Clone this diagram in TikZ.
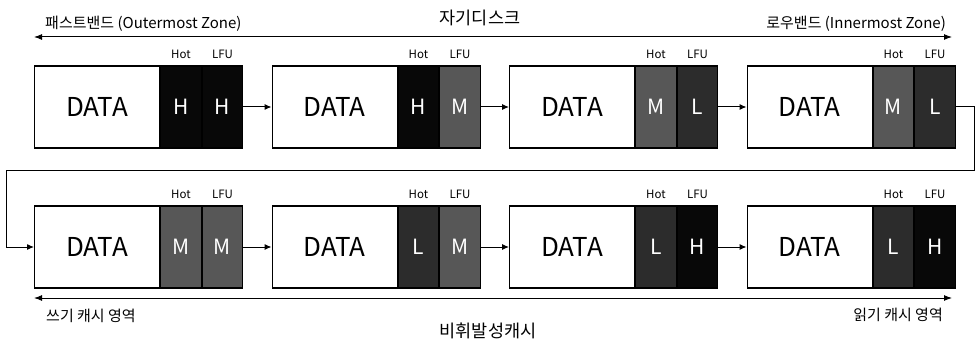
\documentclass[tikz,border=0pt]{standalone}
\usepackage{fontspec}
\setmainfont{Noto Sans CJK KR}
\usetikzlibrary{arrows.meta}
\definecolor{cH}{HTML}{080808}
\definecolor{cM}{HTML}{575757}
\definecolor{cL}{HTML}{2C2C2C}
\begin{document}
\begin{tikzpicture}[x=1pt,y=1pt,
  databox/.style={draw=black, line width=1.1pt, fill=white, minimum width=125pt, minimum height=82pt, inner sep=0pt, anchor=west, font=\fontsize{26}{28}\selectfont},
  cell/.style={draw=black, line width=1.1pt, minimum width=40.5pt, minimum height=82pt, inner sep=0pt, anchor=west, text=white, font=\fontsize{21}{23}\selectfont},
  tag/.style={inner sep=0pt, font=\fontsize{11.5}{13}\selectfont},
  lbl/.style={inner sep=0pt, font=\fontsize{15}{17}\selectfont},
  ttl/.style={inner sep=0pt, font=\fontsize{17.5}{19}\selectfont},
  conn/.style={line width=1pt, -{Latex[length=7pt,width=6pt]}},
  span/.style={line width=1pt, {Latex[length=8pt,width=6pt]}-{Latex[length=8pt,width=6pt]}}
]
\useasboundingbox (0,0) rectangle (976,351);

\foreach \i/\x/\y/\a/\b/\ta/\tb in {
  1/34/244/cH/cH/H/H, 2/271.5/244/cH/cM/H/M, 3/509/244/cM/cL/M/L, 4/746.5/244/cM/cL/M/L,
  5/34/104/cM/cM/M/M, 6/271.5/104/cL/cM/L/M, 7/509/104/cL/cH/L/H, 8/746.5/104/cL/cH/L/H} {
  \node[databox] (d\i) at (\x,\y) {DATA};
  \node[cell, fill=\a] (h\i) at (d\i.east) {\ta};
  \node[cell, fill=\b] (f\i) at (h\i.east) {\tb};
  \node[tag] (th\i) at ([yshift=11pt]h\i.north) {Hot};
  \node[tag] (tf\i) at ([yshift=11pt]f\i.north) {LFU};
}

\draw[conn] (f1.east) -- (d2.west);
\draw[conn] (f2.east) -- (d3.west);
\draw[conn] (f3.east) -- (d4.west);
\draw[conn] (f5.east) -- (d6.west);
\draw[conn] (f6.east) -- (d7.west);
\draw[conn] (f7.east) -- (d8.west);
\coordinate (loopR) at (974,180);
\coordinate (loopL) at (6,180);
\draw[conn] (f4.east) -| (loopR) -- (loopL) |- (d5.west);

% top span arrow
\coordinate (tl) at (34,314);
\coordinate (tr) at (952,314);
\draw[span] (tl) -- (tr);
\node[ttl] (title1) at (480,333) {자기디스크};
\node[lbl, anchor=west] (fast) at (45,327) {패스트밴드 (Outermost Zone)};
\node[lbl, anchor=east] (low) at (946,327) {로우밴드 (Innermost Zone)};

% bottom span arrow
\coordinate (bl) at (34,53);
\coordinate (br) at (952,53);
\draw[span] (bl) -- (br);
\node[lbl, anchor=west] (wr) at (46,35) {쓰기 캐시 영역};
\node[lbl, anchor=east] (rd) at (943,36) {읽기 캐시 영역};
\node[ttl] (title2) at (488,20) {비휘발성캐시};
\end{tikzpicture}
\end{document}
